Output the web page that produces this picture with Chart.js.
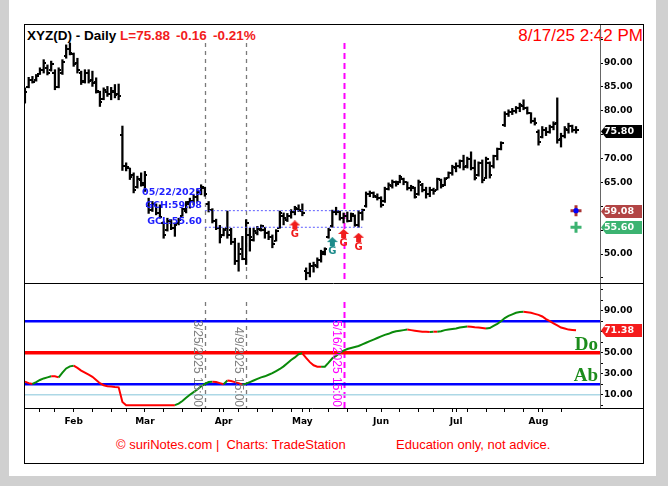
<!DOCTYPE html>
<html>
<head>
<meta charset="utf-8">
<title>XYZ(D) - Daily</title>
<script src="https://cdn.jsdelivr.net/npm/chart.js@4.4.1/dist/chart.umd.min.js"></script>
<style>
html,body{margin:0;padding:0;background:#d0d0d0;}
#wrap{position:relative;width:668px;height:486px;overflow:hidden;background:#d0d0d0;}
#paper{position:absolute;left:9px;top:0;width:647px;height:476px;background:#fff;}
.t{position:absolute;white-space:pre;line-height:1;font-family:"Liberation Sans",Arial,sans-serif;z-index:1;}
.hd{font-size:13.5px;font-weight:bold;top:28.6px;}
.rd{color:#f21c1c;}
#chart{position:absolute;left:0;top:0;z-index:2;}
</style>
</head>
<body>
<div id="wrap">
  <div id="paper"></div>
  <div class="t hd" style="left:27px;color:#000;">XYZ(D) - Daily</div>
  <div class="t hd rd" style="left:120px;">L=75.88</div>
  <div class="t hd rd" style="left:176px;">-0.16</div>
  <div class="t hd rd" style="left:213px;">-0.21%</div>
  <div class="t" style="right:25px;top:26.6px;font-size:17px;color:#f00;">8/17/25 2:42 PM</div>
  <div class="t" style="left:116px;top:437.7px;font-size:13px;color:#f00;">© suriNotes.com |  Charts: TradeStation</div>
  <div class="t" style="left:396px;top:437.7px;font-size:13px;color:#f00;">Education only, not advice.</div>
  <canvas id="chart" width="668" height="486"></canvas>
</div>
<script>
// ---------- DATA ----------
const dates = [
 '2025-01-14','2025-01-15','2025-01-16','2025-01-17','2025-01-21','2025-01-22','2025-01-23','2025-01-24','2025-01-27','2025-01-28','2025-01-29','2025-01-30','2025-01-31',
 '2025-02-03','2025-02-04','2025-02-05','2025-02-06','2025-02-07','2025-02-10','2025-02-11','2025-02-12','2025-02-13','2025-02-14','2025-02-18','2025-02-19','2025-02-20','2025-02-21','2025-02-24','2025-02-25','2025-02-26','2025-02-27','2025-02-28',
 '2025-03-03','2025-03-04','2025-03-05','2025-03-06','2025-03-07','2025-03-10','2025-03-11','2025-03-12','2025-03-13','2025-03-14','2025-03-17','2025-03-18','2025-03-19','2025-03-20','2025-03-21','2025-03-24','2025-03-25','2025-03-26','2025-03-27','2025-03-28','2025-03-31',
 '2025-04-01','2025-04-02','2025-04-03','2025-04-04','2025-04-07','2025-04-08','2025-04-09','2025-04-10','2025-04-11','2025-04-14','2025-04-15','2025-04-16','2025-04-17','2025-04-21','2025-04-22','2025-04-23','2025-04-24','2025-04-25','2025-04-28','2025-04-29','2025-04-30',
 '2025-05-01','2025-05-02','2025-05-05','2025-05-06','2025-05-07','2025-05-08','2025-05-09','2025-05-12','2025-05-13','2025-05-14','2025-05-15','2025-05-16','2025-05-19','2025-05-20','2025-05-21','2025-05-22','2025-05-23','2025-05-27','2025-05-28','2025-05-29','2025-05-30',
 '2025-06-02','2025-06-03','2025-06-04','2025-06-05','2025-06-06','2025-06-09','2025-06-10','2025-06-11','2025-06-12','2025-06-13','2025-06-16','2025-06-17','2025-06-18','2025-06-20','2025-06-23','2025-06-24','2025-06-25','2025-06-26','2025-06-27','2025-06-30',
 '2025-07-01','2025-07-02','2025-07-03','2025-07-07','2025-07-08','2025-07-09','2025-07-10','2025-07-11','2025-07-14','2025-07-15','2025-07-16','2025-07-17','2025-07-18','2025-07-21','2025-07-22','2025-07-23','2025-07-24','2025-07-25','2025-07-28','2025-07-29','2025-07-30','2025-07-31',
 '2025-08-01','2025-08-04','2025-08-05','2025-08-06','2025-08-07','2025-08-08','2025-08-11','2025-08-12','2025-08-13','2025-08-14','2025-08-15'
];
const opens = [
 82,85,86.5,86.5,87.8,88.5,89,88.5,88,85, 88,91.5,93,91.8,90,88,86.2,88,86.5,86,
 84,82.5,84,83.5,84,83.5,74.9,68.5,68,66.5, 64,65.5,64.5,60,59.2,60.3,58.5,56.5,55,57,
 55.5,56.5,58,59,60.5,61.2,62,63,63.8,60.5, 59.3,57,55.5,54,55.5,55,52.5,48.5,51,49,
 54,53,54.5,55,55,54.3,53.5,52.8,55.5,58, 57.2,58,58.8,59.5,59,46.5,46,47.5,47.5,48.8,
 50,53.5,55.8,58.8,58.8,57.5,58,57,58,56, 58.5,60,62.5,62.8,62,61.8,61,63.6,64.3,65,
 65,65.8,65,63.8,63.8,62.5,64.5,63.5,62.5,63.5, 63.5,65.5,64.5,66,67,68,68.5,69.5,68.5,70,
 68,66.5,69,66,69,68.5,70.5,72,77,79.3, 79.8,80,80.5,81,80.5,79.5,77.8,75.5,74.5,76,
 75.5,76.5,77.5,74,74.8,76,76.8,76
];
const highs = [
 84.8,87,87.2,87.6,89,90.7,89.6,90.4,88.6,89, 90.7,93.8,94.2,92.1,91,88.3,88.6,88.6,88.3,86.9,
 84.1,84.8,85.1,84.9,85.5,85.6,76.8,69.1,68,67, 66.3,67,67.3,61.7,61,60.5,60.3,56.8,57.5,57.2,
 56.5,57.5,59.6,61,61.7,62.4,63.5,64.5,64,61, 59.5,57.3,56,55.4,59,55.4,53.3,52.3,53.7,57.2,
 55.4,55.4,55.8,56.1,55.6,54.8,54,55.1,59,58.6, 58.5,59.3,60,60.3,60.5,47.1,48.1,48.3,49.2,50.8,
 51.3,55.4,59.2,59.8,59,58.6,58.8,58.6,58.2,59.08, 59.4,63,63.2,63,62.6,62,64,64.9,65.5,65.3,
 66.5,65.9,65.1,64.4,64,65.5,64.8,64,64,63.8, 65.9,65.7,66,67.2,68.6,69.1,69.7,70.7,70.3,71.4,
 69.7,69.3,69.7,70.3,69.3,70.7,72.2,73.5,79.8,80.2, 80.5,80.9,81.6,82.3,80.8,79.6,78.5,76,76.7,76.5,
 77,77.7,82.7,75.3,76.7,77.4,77,76.7
];
const lows = [
 81.6,84.8,85.8,86.2,87.6,87.9,87.5,88.3,84.4,84.8, 87.6,91,91.7,89.3,87.9,85.5,85.8,85.8,85.1,83.7,
 80.9,82.3,83,82.3,82.7,82.3,67.5,67.4,65.6,62.8, 63.8,64.2,63.1,58.5,58.9,58.2,57.5,53.3,54.8,55.1,
 53.7,56.1,57.9,58.6,59.6,60.3,61,62.4,62.1,58.8, 56.5,55.1,52.3,53.8,53.3,52,47.8,46.4,48.8,47.8,
 50.6,52.7,54,54.8,53.3,53,51.3,52.7,55.4,56.1, 56.8,57.5,58.2,58.9,58,44.6,45.2,46.2,47.1,48.3,
 49.8,53.3,55.6,58.2,57.1,56.5,56.7,56.8,55.8,55.6, 57.1,59.8,62,61.8,61.3,59.8,60.8,63.4,63.8,64.2,
 64.9,64.5,63.4,63.2,61.7,62.3,63,61.7,62,62.5, 63.4,63.8,64.3,65.9,66.5,67.2,68,67.6,68,67.6,
 65.5,66.3,64.9,65.8,65.9,68,69.7,71.8,76.7,78.8, 79.2,79.5,79.8,80.2,79.3,77.4,77,72.8,74.3,74.8,
 75.3,76,73.2,72.4,74.3,75.3,75.5,75.3
];
const closes = [
 84,86.5,86,87.2,88.6,90,88,89.8,85,88.5, 90.2,93,92.2,89.8,88.5,86,88,86.3,85.8,84.2,
 81.8,84.3,83.5,84.2,83.3,83,68.5,68.3,66.2,63.5, 65.8,64.8,66.5,59.2,60.5,58.5,57.8,54,57,55.5,
 56,57.2,59.4,60.8,61.2,62,63,64,62.5,59.2, 57,55.5,53.5,55,54,52.5,48.5,50,49,56.5,
 53.5,54.8,55.2,55.8,54.5,53.5,52,54.8,58.5,57.5, 58,58.8,59.7,59.3,58.5,46,47.5,47.8,48.8,50.5,
 51,55,58.8,59,57.5,58,57,58.3,56,58.5, 59.2,62.5,62.8,62.2,61.8,60.3,63.6,64.5,65,64.6,
 66.2,65,63.8,64,62,65,63.5,62.5,63.5,63.2, 65.7,64.2,65.8,67,68.2,68.5,69.4,68.2,70,68,
 66,69,65.5,70,66.5,70.5,72,73.2,79.3,79.8, 80,80.6,81.2,80.5,79.5,77.8,77.5,73.5,76,75.5,
 76.5,77.3,73.8,74.8,76.2,76.8,75.9,75.88
];
const oscValues = [
 22.4,21,20.2,22,24,25.5,26.5,27.5,27.5,26.5, 31,35,37,37.6,35.5,33,31,29,27,24,
 21,19,18,17.7,17.3,17,3,0,0,0, 0,0,0,0,0,0,0,0,0,0,
 0,1.5,4,7,10,12.5,15,18,20.2,22, 22.4,22,21,20,23.5,23,22,21,19.5,20.5,
 22,23.5,25,26.5,27.5,29,30.5,32.5,34.5,37, 40,43,45.5,48.5,49.4,45,41,38,36.7,36.5,
 36.7,40.5,44.7,47,50,52,53.5,54.5,55.5,56.4, 58,59.5,61,62.5,64,65.5,67,68,69.5,70.5,
 71,71.5,72,71.5,71,70.5,70,70,69.8,70, 70,70.5,71.5,72,72.5,73,74,74.5,75,74.7,
 74.3,74,73.5,73,73.5,75.5,77.5,80,83,85, 86.5,88,88.8,89,88.5,88,87,86,84.5,82,
 80,78,76,74,73,72,71.7,71.38
];
const priceTicks = [45, 50, 55, 60, 65, 70, 75, 80, 85, 90, 95];
const priceTickLabels = ['', '50.00', '', '', '65.00', '70.00', '', '80.00', '85.00', '90.00', ''];
const oscTicks = [0, 10, 20, 30, 40, 50, 60, 70, 80, 90, 100, 110];
const oscTickLabels = ['', '10.00', '', '30.00', '', '50.00', '', '', '', '90.00', '', ''];
const oscLevels = [80, 50, 20, 10];
const zoneLabels = ['Do', 'Ab'];
const monthNames = ['Jan','Feb','Mar','Apr','May','Jun','Jul','Aug','Sep','Oct','Nov','Dec'];
const vlineDates = ['2025-03-25', '2025-04-09', '2025-05-16'];
const vlineLabels = ['3/25/2025 15:00', '4/9/2025 15:00', '5/16/2025 15:00'];
const gcLabels = ['05/22/2025', 'GCH:59.08', 'GCL:55.60'];
const gcFrom = '2025-03-25', gcTo = '2025-05-23';
const gch = 59.08, gcl = 55.60;
const signalDates = ['2025-04-29', '2025-05-13', '2025-05-16', '2025-05-22'];
const signalLevels = [56.1, 52.6, 54.3, 53.5];
const signalKinds = ['red', 'teal', 'red', 'red'];
const lastMarks = [59.08, 55.60];
const priceBadges = [75.80, 59.08, 55.60];
const oscBadges = [71.38];

// ---------- STYLES ----------
const levelStyle = [
  {color:'#0000ff', width:2.5}, {color:'#ff0000', width:3.5},
  {color:'#0000ff', width:2.5}, {color:'#add8e6', width:1.5}
];
const vlineStyle = [
  {color:'#7a7a7a', width:1.3, dash:[4,4]},
  {color:'#7a7a7a', width:1.3, dash:[4,4]},
  {color:'#ff00ff', width:2, dash:[6,4]}
];
const signalColor = {red:'#f01c1c', teal:'#1d8b8b'};
const priceBadgeBg = ['#000000', '#b24444', '#3cb371'];
const oscBadgeBg = ['#f51c1c'];
const xMin = -0.25, xMax = 153.4;

// ---------- HELPERS ----------
const di = d => dates.indexOf(d);
function tickImg(left) {
  const c = document.createElement('canvas'); c.width = 5; c.height = 2;
  const g = c.getContext('2d'); g.fillStyle = '#000';
  g.fillRect(left ? 0 : 3, 0, 2, 2); return c;
}
function arrowImg(color) {
  const c = document.createElement('canvas'); c.width = 11; c.height = 9;
  const g = c.getContext('2d'); g.fillStyle = color;
  g.beginPath(); g.moveTo(5.5, 0); g.lineTo(11, 5); g.lineTo(0, 5); g.closePath(); g.fill();
  g.fillRect(3, 5, 5, 4); return c;
}
const openImg = tickImg(true), closeImg = tickImg(false);
const arrowImgs = {red: arrowImg(signalColor.red), teal: arrowImg(signalColor.teal)};

const tickIdx = [], monthAt = {};
dates.forEach((d, i) => {
  if (i === 0) return;
  const a = new Date(dates[i-1] + 'T12:00:00Z'), b = new Date(d + 'T12:00:00Z');
  const newWeek = b.getUTCDay() < a.getUTCDay() || (b - a) > 4 * 864e5;
  const newMonth = b.getUTCMonth() !== a.getUTCMonth();
  if (newMonth) monthAt[i] = monthNames[b.getUTCMonth()];
  if (newWeek || newMonth) tickIdx.push(i);
});

const idx = dates.map((_, i) => i);
const lastIdx = dates.length - 1;

const datasets = [
  {type:'line', data:lastMarks.slice(0,1).map(v => ({x:lastIdx, y:v})), yAxisID:'y', showLine:false,
   pointStyle:'circle', pointRadius:2.6, pointBackgroundColor:'#0000ff', pointBorderWidth:0, order:0},
  {type:'line', data:lastMarks.map(v => ({x:lastIdx, y:v})), yAxisID:'y', showLine:false,
   pointStyle:'cross', pointRadius:5.5, pointBorderWidth:3, pointBorderColor:['#a83232', '#3cb371'], order:1},
  {type:'line', data:signalDates.map((d, k) => ({x:di(d), y:signalLevels[k]})), yAxisID:'y', showLine:false,
   pointStyle:signalKinds.map(k => arrowImgs[k]), pointRadius:2, order:2},
  {type:'line', data:[{x:di(gcFrom), y:gch}, {x:di(gcTo), y:gch}], yAxisID:'y', borderColor:'#5c5cff',
   borderWidth:1, borderDash:[2,2], pointRadius:0, order:3},
  {type:'line', data:[{x:di(gcFrom), y:gcl}, {x:di(gcTo), y:gcl}], yAxisID:'y', borderColor:'#5c5cff',
   borderWidth:1, borderDash:[2,2], pointRadius:0, order:3},
  {type:'line', data:idx.map(i => ({x:i, y:opens[i]})), yAxisID:'y', showLine:false, pointStyle:openImg, pointRadius:1, order:4},
  {type:'line', data:idx.map(i => ({x:i, y:closes[i]})), yAxisID:'y', showLine:false, pointStyle:closeImg, pointRadius:1, order:4},
  {type:'bar', data:idx.map(i => ({x:i, y:[lows[i], highs[i]]})), yAxisID:'y', backgroundColor:'#000',
   barThickness:1.6, order:5},
  {type:'line', data:idx.map(i => ({x:i, y:oscValues[i]})), yAxisID:'y2', borderWidth:2, pointRadius:0,
   borderColor:'#008000', tension:0,
   segment:{borderColor: c => c.p1.parsed.y > c.p0.parsed.y ? '#0a8a0a' : '#ff0000'}, order:6},
  ...oscLevels.map((v, k) => ({type:'line', data:[{x:xMin, y:v}, {x:xMax, y:v}], yAxisID:'y2',
   borderColor:levelStyle[k].color, borderWidth:levelStyle[k].width, pointRadius:0, order:7}))
];

const axisFont = {family:'DejaVu Sans', weight:'bold', size:9};

const decor = {
  id:'decor',
  beforeDatasetsDraw(chart) {
    const {ctx, scales:{x, y, y2}} = chart;
    ctx.save();
    vlineDates.forEach((d, k) => {
      const st = vlineStyle[k];
      const px = Math.round(x.getPixelForValue(di(d))) + 0.5;
      ctx.strokeStyle = st.color; ctx.lineWidth = st.width; ctx.setLineDash(st.dash);
      [y, y2].forEach(s => { ctx.beginPath(); ctx.moveTo(px, s.top + 19); ctx.lineTo(px, s.bottom); ctx.stroke(); });
    });
    ctx.restore();
  },
  afterDatasetsDraw(chart) {
    const {ctx, scales:{x, y, y2}, chartArea:ca} = chart;
    ctx.save();
    const gx = x.getPixelForValue(di(gcFrom)) - 3;
    ctx.fillStyle = '#2020ff'; ctx.font = 'bold 9.5px "DejaVu Sans"';
    ctx.textAlign = 'right'; ctx.textBaseline = 'alphabetic';
    ctx.fillText(gcLabels[0], gx, y.getPixelForValue(gch) - 16);
    ctx.fillText(gcLabels[1], gx, y.getPixelForValue(gch) - 3);
    ctx.fillText(gcLabels[2], gx, y.getPixelForValue(gcl) - 3);
    ctx.font = 'bold 10px "DejaVu Sans"'; ctx.textAlign = 'center'; ctx.textBaseline = 'top';
    signalDates.forEach((d, k) => {
      ctx.fillStyle = signalColor[signalKinds[k]];
      ctx.fillText('G', x.getPixelForValue(di(d)), y.getPixelForValue(signalLevels[k]) + 5);
    });
    vlineDates.forEach((d, k) => {
      const px = x.getPixelForValue(di(d));
      ctx.save();
      ctx.translate(Math.round(px) - 2, y2.bottom - 1);
      ctx.rotate(Math.PI / 2);
      ctx.font = '12px "Liberation Sans"'; ctx.fillStyle = k === 2 ? '#ff00ff' : '#808080';
      ctx.textAlign = 'right'; ctx.textBaseline = 'top';
      ctx.fillText(vlineLabels[k], 0, 0);
      ctx.restore();
    });
    ctx.font = 'bold 19px "Liberation Sans Narrow"'; ctx.fillStyle = '#1c8c1c';
    ctx.textAlign = 'right'; ctx.textBaseline = 'alphabetic';
    ctx.fillText(zoneLabels[0], ca.right - 2, y2.getPixelForValue(oscLevels[1]) - 3);
    ctx.fillText(zoneLabels[1], ca.right - 2, y2.getPixelForValue(oscLevels[2]) - 3);
    ctx.restore();
  },
  afterDraw(chart) {
    const {ctx, scales:{y, y2}, chartArea:ca} = chart;
    ctx.save();
    ctx.strokeStyle = '#000'; ctx.lineWidth = 1;
    ctx.strokeRect(24.5, 24.5, 619, 439);
    ctx.beginPath(); ctx.moveTo(24, y.bottom + 0.5); ctx.lineTo(643, y.bottom + 0.5); ctx.stroke();
    ctx.beginPath(); ctx.moveTo(ca.right, ca.bottom + 0.5); ctx.lineTo(643, ca.bottom + 0.5); ctx.stroke();
    const badge = (scale, v, bg) => {
      const py = Math.round(scale.getPixelForValue(v)) + 0.5;
      const x0 = ca.right + 1, x1 = 642, h = 13;
      ctx.fillStyle = bg; ctx.beginPath();
      ctx.moveTo(x0, py); ctx.lineTo(x0 + 5, py - h / 2); ctx.lineTo(x1, py - h / 2);
      ctx.lineTo(x1, py + h / 2); ctx.lineTo(x0 + 5, py + h / 2); ctx.closePath(); ctx.fill();
      ctx.fillStyle = '#fff'; ctx.font = 'bold 9.5px "DejaVu Sans"';
      ctx.textAlign = 'left'; ctx.textBaseline = 'middle';
      ctx.fillText(v.toFixed(2), x0 + 3, py + 0.5);
    };
    priceBadges.forEach((v, k) => badge(y, v, priceBadgeBg[k]));
    oscBadges.forEach((v, k) => badge(y2, v, oscBadgeBg[k]));
    ctx.restore();
  }
};

new Chart(document.getElementById('chart'), {
  type:'bar',
  data:{datasets},
  options:{
    responsive:false, animation:false, events:[],
    layout:{padding:{left:24, top:24, right:25, bottom:48}},
    plugins:{legend:{display:false}, tooltip:{enabled:false}},
    scales:{
      x:{type:'linear', position:'bottom', min:xMin, max:xMax, bounds:'data', offset:false,
        grid:{drawOnChartArea:false, drawTicks:true, tickLength:4, color:'#000', offset:false},
        border:{display:true, color:'#000'},
        afterBuildTicks: s => { s.ticks = tickIdx.map(v => ({value:v})); },
        afterFit: s => { s.height = 30; },
        ticks:{autoSkip:false, maxRotation:0, padding:4, color:'#000', font:axisFont,
          callback: v => monthAt[v] || ''}},
      y:{type:'linear', position:'right', stack:'panes', stackWeight:259, min:43.93, max:98.17,
        bounds:'data', grid:{drawOnChartArea:false, tickLength:3, color:'#000'},
        border:{display:true, color:'#666'},
        afterBuildTicks: s => { s.ticks = priceTicks.map(v => ({value:v})); },
        afterFit: s => { s.width = 43; },
        ticks:{autoSkip:false, padding:1, color:'#000', font:axisFont,
          callback: (v, i) => priceTickLabels[i]}},
      y2:{type:'linear', position:'right', stack:'panes', stackWeight:125, min:-2.67, max:116.38,
        bounds:'data', grid:{drawOnChartArea:false, tickLength:3, color:'#000'},
        border:{display:true, color:'#666'},
        afterBuildTicks: s => { s.ticks = oscTicks.map(v => ({value:v})); },
        afterFit: s => { s.width = 43; },
        ticks:{autoSkip:false, padding:1, color:'#000', font:axisFont,
          callback: (v, i) => oscTickLabels[i]}}
    }
  },
  plugins:[decor]
});
</script>
</body>
</html>
